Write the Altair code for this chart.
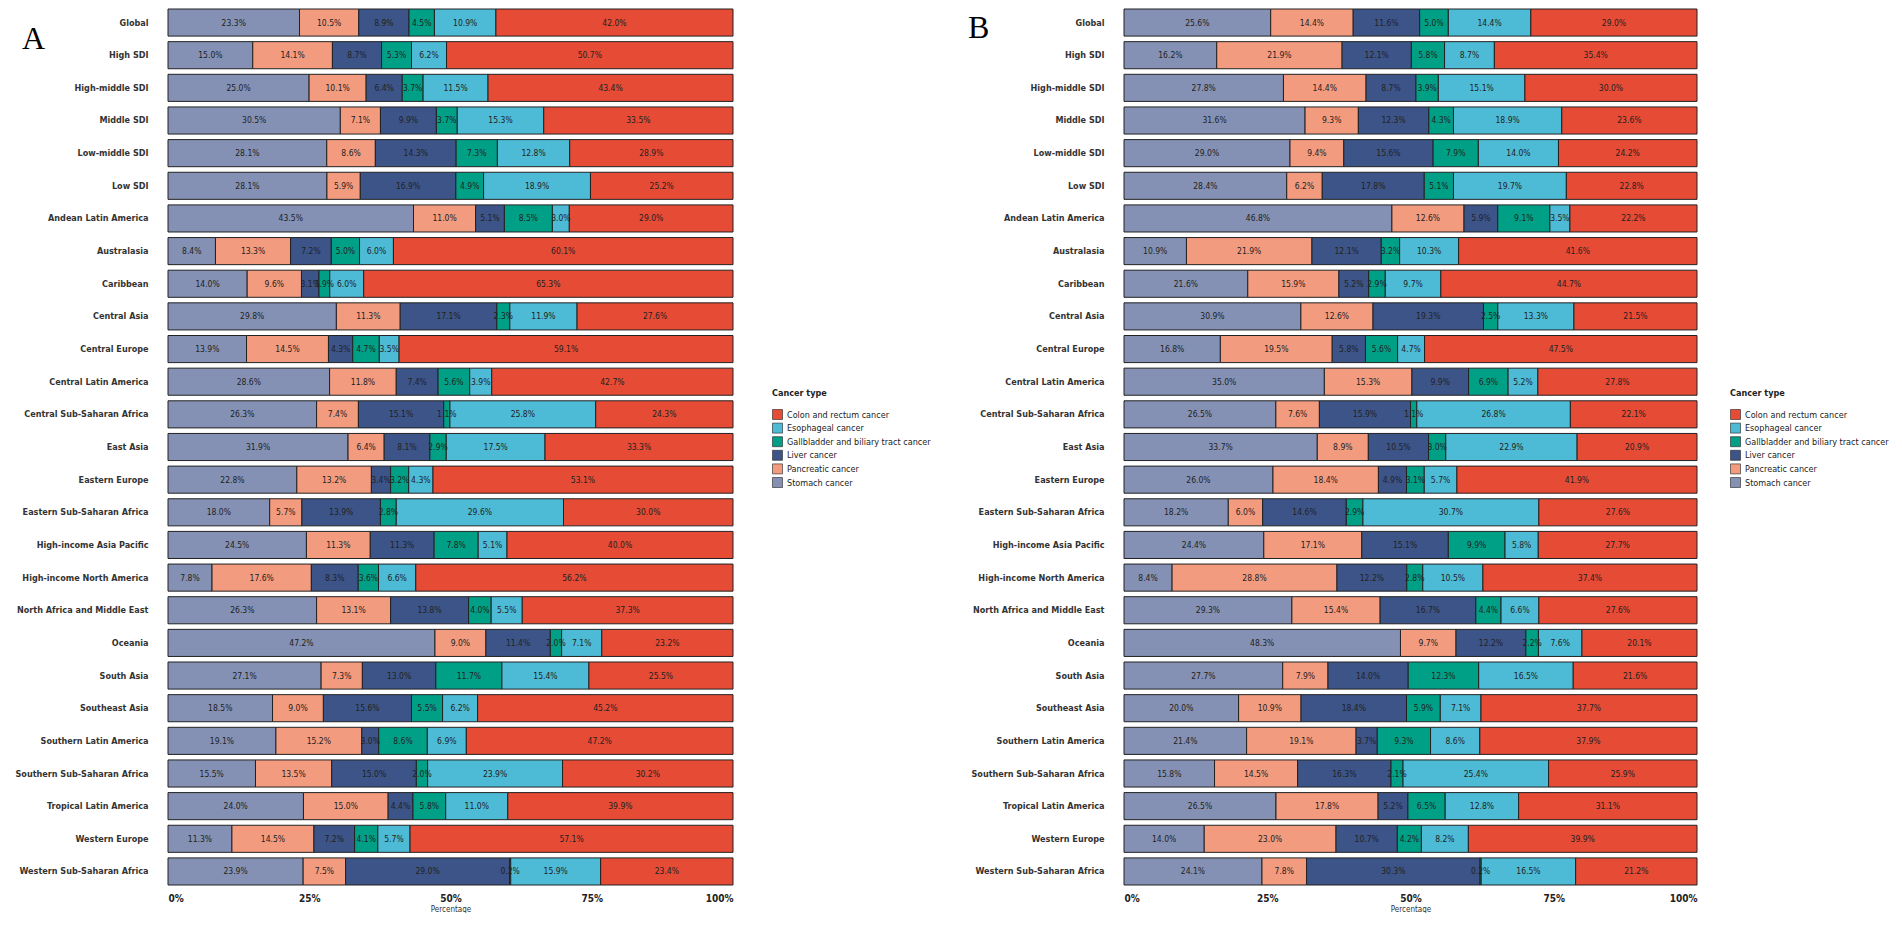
import altair as alt
import pandas as pd

regions = [
    "Global", "High SDI", "High-middle SDI", "Middle SDI", "Low-middle SDI", "Low SDI",
    "Andean Latin America", "Australasia", "Caribbean", "Central Asia", "Central Europe",
    "Central Latin America", "Central Sub-Saharan Africa", "East Asia", "Eastern Europe",
    "Eastern Sub-Saharan Africa", "High-income Asia Pacific", "High-income North America",
    "North Africa and Middle East", "Oceania", "South Asia", "Southeast Asia",
    "Southern Latin America", "Southern Sub-Saharan Africa", "Tropical Latin America",
    "Western Europe", "Western Sub-Saharan Africa",
]

# stacking order, left to right
stack_causes = [
    "Stomach cancer", "Pancreatic cancer", "Liver cancer",
    "Gallbladder and biliary tract cancer", "Esophageal cancer", "Colon and rectum cancer",
]
legend_causes = [
    "Colon and rectum cancer", "Esophageal cancer", "Gallbladder and biliary tract cancer",
    "Liver cancer", "Pancreatic cancer", "Stomach cancer",
]
legend_colors = ["#E64B35", "#4DBBD5", "#00A087", "#3C5488", "#F39B7F", "#8491B4"]

# ---- Panel A ----
a_stomach = [23.3, 15.0, 25.0, 30.5, 28.1, 28.1, 43.5, 8.4, 14.0, 29.8, 13.9, 28.6, 26.3, 31.9,
             22.8, 18.0, 24.5, 7.8, 26.3, 47.2, 27.1, 18.5, 19.1, 15.5, 24.0, 11.3, 23.9]
a_pancreatic = [10.5, 14.1, 10.1, 7.1, 8.6, 5.9, 11.0, 13.3, 9.6, 11.3, 14.5, 11.8, 7.4, 6.4,
                13.2, 5.7, 11.3, 17.6, 13.1, 9.0, 7.3, 9.0, 15.2, 13.5, 15.0, 14.5, 7.5]
a_liver = [8.9, 8.7, 6.4, 9.9, 14.3, 16.9, 5.1, 7.2, 3.1, 17.1, 4.3, 7.4, 15.1, 8.1,
           3.4, 13.9, 11.3, 8.3, 13.8, 11.4, 13.0, 15.6, 3.0, 15.0, 4.4, 7.2, 29.0]
a_gallbladder = [4.5, 5.3, 3.7, 3.7, 7.3, 4.9, 8.5, 5.0, 1.9, 2.3, 4.7, 5.6, 1.1, 2.9,
                 3.2, 2.8, 7.8, 3.6, 4.0, 2.0, 11.7, 5.5, 8.6, 2.0, 5.8, 4.1, 0.2]
a_esophageal = [10.9, 6.2, 11.5, 15.3, 12.8, 18.9, 3.0, 6.0, 6.0, 11.9, 3.5, 3.9, 25.8, 17.5,
                4.3, 29.6, 5.1, 6.6, 5.5, 7.1, 15.4, 6.2, 6.9, 23.9, 11.0, 5.7, 15.9]
a_colon = [42.0, 50.7, 43.4, 33.5, 28.9, 25.2, 29.0, 60.1, 65.3, 27.6, 59.1, 42.7, 24.3, 33.3,
           53.1, 30.0, 40.0, 56.2, 37.3, 23.2, 25.5, 45.2, 47.2, 30.2, 39.9, 57.1, 23.4]

# ---- Panel B ----
b_stomach = [25.6, 16.2, 27.8, 31.6, 29.0, 28.4, 46.8, 10.9, 21.6, 30.9, 16.8, 35.0, 26.5, 33.7,
             26.0, 18.2, 24.4, 8.4, 29.3, 48.3, 27.7, 20.0, 21.4, 15.8, 26.5, 14.0, 24.1]
b_pancreatic = [14.4, 21.9, 14.4, 9.3, 9.4, 6.2, 12.6, 21.9, 15.9, 12.6, 19.5, 15.3, 7.6, 8.9,
                18.4, 6.0, 17.1, 28.8, 15.4, 9.7, 7.9, 10.9, 19.1, 14.5, 17.8, 23.0, 7.8]
b_liver = [11.6, 12.1, 8.7, 12.3, 15.6, 17.8, 5.9, 12.1, 5.2, 19.3, 5.8, 9.9, 15.9, 10.5,
           4.9, 14.6, 15.1, 12.2, 16.7, 12.2, 14.0, 18.4, 3.7, 16.3, 5.2, 10.7, 30.3]
b_gallbladder = [5.0, 5.8, 3.9, 4.3, 7.9, 5.1, 9.1, 3.2, 2.9, 2.5, 5.6, 6.9, 1.1, 3.0,
                 3.1, 2.9, 9.9, 2.8, 4.4, 2.2, 12.3, 5.9, 9.3, 2.1, 6.5, 4.2, 0.2]
b_esophageal = [14.4, 8.7, 15.1, 18.9, 14.0, 19.7, 3.5, 10.3, 9.7, 13.3, 4.7, 5.2, 26.8, 22.9,
                5.7, 30.7, 5.8, 10.5, 6.6, 7.6, 16.5, 7.1, 8.6, 25.4, 12.8, 8.2, 16.5]
b_colon = [29.0, 35.4, 30.0, 23.6, 24.2, 22.8, 22.2, 41.6, 44.7, 21.5, 47.5, 27.8, 22.1, 20.9,
           41.9, 27.6, 27.7, 37.4, 27.6, 20.1, 21.6, 37.7, 37.9, 25.9, 31.1, 39.9, 21.2]

FONT = "Liberation Sans Narrow, DejaVu Sans Condensed, Arial Narrow, sans-serif"


def long_table(cols):
    rows = []
    for ci, (cause, vals) in enumerate(zip(stack_causes, cols)):
        for r, v in zip(regions, vals):
            rows.append({"region": r, "cause": cause, "value": v, "ord": ci})
    return pd.DataFrame(rows)


def panel(df, letter, width, lx, ly, legx):
    base = alt.Chart(df).transform_stack(
        stack="value", groupby=["region"], as_=["x0", "x1"],
        sort=[alt.SortField(field="ord", order="ascending")], offset="normalize",
    ).transform_calculate(
        mid="(datum.x0 + datum.x1) / 2",
        label="format(datum.value, '.1f') + '%'",
    )
    yenc = alt.Y(
        "region:N", sort=regions,
        scale=alt.Scale(paddingInner=0.17, paddingOuter=0),
        axis=alt.Axis(title=None, domain=False, ticks=False, labelPadding=20,
                      labelFont=FONT, labelFontSize=9, labelFontWeight="bold",
                      labelColor="#333333", labelLimit=400),
    )
    bars = base.mark_bar(stroke="#222222", strokeWidth=1).encode(
        x=alt.X("x0:Q", scale=alt.Scale(domain=[0, 1], nice=False),
                axis=alt.Axis(values=[0, 0.25, 0.5, 0.75, 1], format=".0%", title="Percentage",
                              domain=False, ticks=False, grid=False, labelPadding=8,
                              labelFont=FONT, labelFontSize=10, labelFontWeight="bold",
                              labelColor="#222222", titleFont=FONT, titleFontSize=8,
                              titleFontWeight="normal", titleColor="#333333", titlePadding=2)),
        x2="x1:Q",
        y=yenc,
        color=alt.Color(
            "cause:N",
            scale=alt.Scale(domain=legend_causes, range=legend_colors),
            legend=alt.Legend(orient="none", legendX=legx, legendY=380, title="Cancer type",
                              titleFont=FONT, titleFontSize=9, titleFontWeight="bold",
                              titleColor="#222222", titlePadding=11,
                              labelFont=FONT, labelFontSize=9, labelColor="#222222",
                              symbolType="square", symbolSize=100, symbolStrokeColor="#222222",
                              symbolStrokeWidth=0.6, symbolOpacity=1, rowPadding=0.6,
                              labelOffset=4, labelLimit=400),
        ),
    )
    text = base.mark_text(font=FONT, fontSize=8.5, color="#222222").encode(
        x="mid:Q",
        y=alt.Y("region:N", sort=regions),
        text="label:N",
    )
    let = alt.Chart(pd.DataFrame({"t": [letter]})).mark_text(
        font="Liberation Serif, DejaVu Serif, serif", fontSize=32, align="left", baseline="middle",
        color="#000000",
    ).encode(text="t:N", x=alt.value(lx), y=alt.value(ly))
    return alt.layer(bars, text, let).properties(width=width, height=876)


df_a = long_table([a_stomach, a_pancreatic, a_liver, a_gallbladder, a_esophageal, a_colon])
df_b = long_table([b_stomach, b_pancreatic, b_liver, b_gallbladder, b_esophageal, b_colon])

pa = panel(df_a, "A", 565, -146, 30, 604)
pb = panel(df_b, "B", 573, -156, 19, 606)

chart = alt.hconcat(pa, pb, spacing=391, bounds="flush").resolve_scale(
    color="independent"
).resolve_legend(color="independent").configure_view(stroke=None).properties(
    padding={"left": 6, "top": 0, "right": 0, "bottom": 0},
    background="white",
)

chart.save("out.html", embed_options={"renderer": "svg", "actions": False})
